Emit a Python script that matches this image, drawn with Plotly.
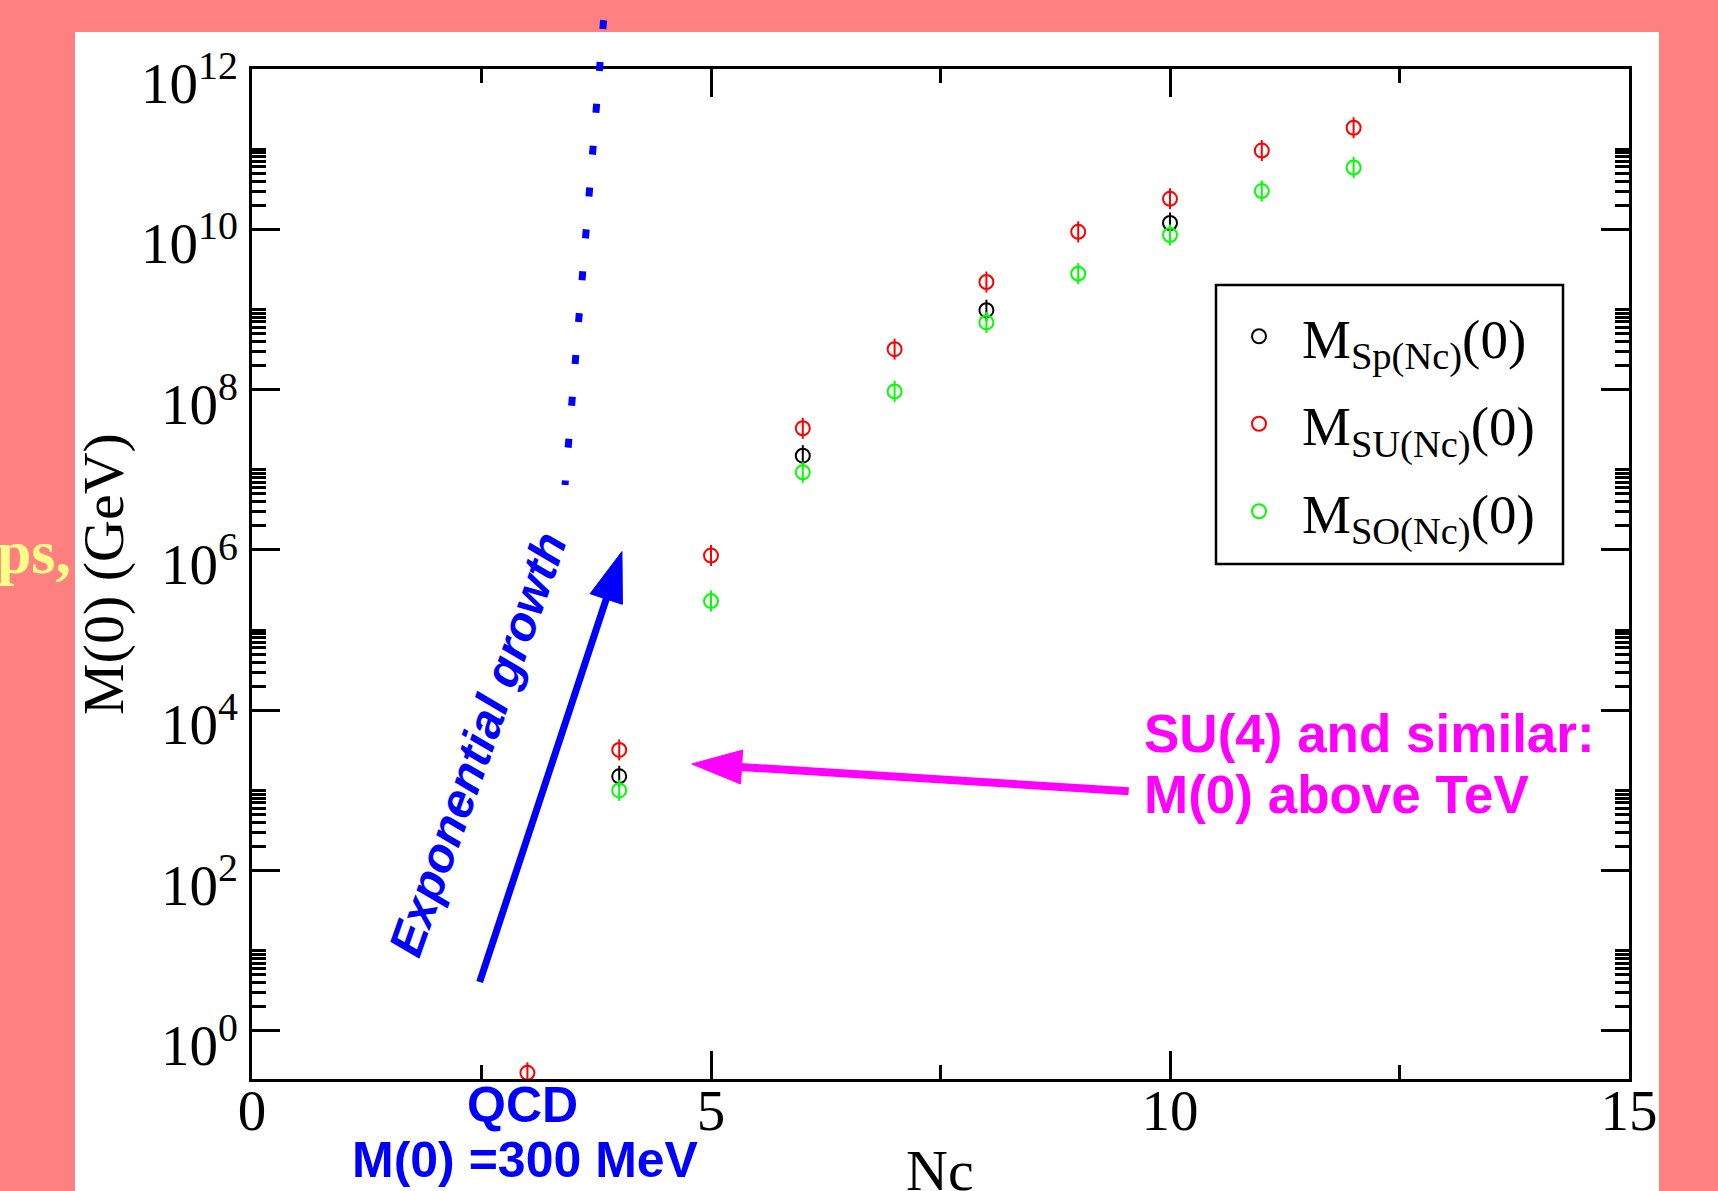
import math
import plotly.graph_objects as go

# ---------------- data ----------------
nc_sp = [4, 6, 8, 10]
m_sp = [1.5e3, 1.5e7, 9.8e8, 1.2e10]
nc_su = [3, 4, 5, 6, 7, 8, 9, 10, 11, 12]
m_su = [0.3, 3.2e3, 8.5e5, 3.3e7, 3.2e8, 2.2e9, 9.3e9, 2.4e10, 9.6e10, 1.85e11]
nc_so = [4, 5, 6, 7, 8, 9, 10, 11, 12]
m_so = [1.0e3, 2.3e5, 9.3e6, 9.5e7, 6.9e8, 2.8e9, 8.5e9, 3.0e10, 5.9e10]

series_names = ["M<sub>Sp(Nc)</sub>(0)", "M<sub>SU(Nc)</sub>(0)", "M<sub>SO(Nc)</sub>(0)"]
series_colors = ["#000000", "#ff0000", "#00ff00"]

x_ticks = [0, 5, 10, 15]
x_ticktext = ["0", "5", "10", "15"]
x_minor = [2.5, 7.5, 12.5]
y_exps = [0, 2, 4, 6, 8, 10, 12]
y_ticks = [10 ** e for e in y_exps]
y_ticktext = [f"10<sup>{e}</sup>" for e in y_exps]
y_minor = [k * 10 ** e for e in y_exps[:-1] for k in range(2, 11)]

# annotation anchor points (data coordinates)
growth_arrow_tail = (2.48, 10 ** 0.61)
growth_arrow_tip = (4.03, 10 ** 5.98)
su4_arrow_tail = (9.55, 10 ** 2.99)
su4_arrow_tip = (4.79, 10 ** 3.33)
dotted_start = (3.83, 10 ** 12.61)
dotted_end = (3.41, 10 ** 6.81)

# ---------------- geometry ----------------
W, H = 1718, 1191
ML, MR, MT, MB = 252, 89, 69, 112
PW, PH = W - ML - MR, H - MT - MB
X_RANGE = [0, 15]
Y_RANGE = [-0.6, 12]

PINK = "#ff8080"
BLUE = "#0000ff"
MAGENTA = "#ff00ff"
SERIF = "Liberation Serif, Times New Roman, serif"
SANS = "Liberation Sans, Arial, sans-serif"


def to_px(x, y):
    px = ML + (x - X_RANGE[0]) / (X_RANGE[1] - X_RANGE[0]) * PW
    py = MT + (Y_RANGE[1] - math.log10(y)) / (Y_RANGE[1] - Y_RANGE[0]) * PH
    return px, py


def pp(px, py):
    """pixel -> paper"""
    return (px - ML) / PW, (H - MB - py) / PH


def arrow_shapes(tail, tip, color, shaft_w, head_len, head_w):
    sx, sy = to_px(*tail)
    tx, ty = to_px(*tip)
    d = math.hypot(tx - sx, ty - sy)
    ux, uy = (tx - sx) / d, (ty - sy) / d
    nx, ny = -uy, ux
    bx, by = tx - head_len * ux, ty - head_len * uy
    c1 = (bx + nx * head_w / 2, by + ny * head_w / 2)
    c2 = (bx - nx * head_w / 2, by - ny * head_w / 2)
    p0 = pp(sx, sy)
    p1 = pp(bx + 2 * ux, by + 2 * uy)
    line = dict(type="line", xref="paper", yref="paper", x0=p0[0], y0=p0[1], x1=p1[0], y1=p1[1],
                line=dict(color=color, width=shaft_w), layer="above")
    pts = [pp(tx, ty), pp(*c1), pp(*c2)]
    path = "M{:.5f},{:.5f} L{:.5f},{:.5f} L{:.5f},{:.5f} Z".format(*pts[0], *pts[1], *pts[2])
    head = dict(type="path", xref="paper", yref="paper", path=path, fillcolor=color,
                line=dict(color=color, width=1), layer="above")
    return [line, head]


fig = go.Figure()

series = [(nc_sp, m_sp), (nc_su, m_su), (nc_so, m_so)]
for (xs, ys), name, col in zip(series, series_names, series_colors):
    fig.add_trace(go.Scatter(
        x=xs, y=ys, mode="markers", name=name, legendgroup=name,
        marker=dict(symbol="circle-open", size=14, color=col, line=dict(width=2, color=col)),
    ))
    fig.add_trace(go.Scatter(
        x=xs, y=ys, mode="markers", name=name, legendgroup=name, showlegend=False,
        marker=dict(symbol="line-ns-open", size=15, color=col, line=dict(width=2, color=col)),
    ))

shapes = []
# white slide panel
a = pp(75, 1300)
b = pp(1659, 32)
shapes.append(dict(type="rect", xref="paper", yref="paper", x0=a[0], y0=a[1], x1=b[0], y1=b[1],
                   fillcolor="white", line=dict(width=0), layer="below"))
# legend frame
la = pp(1216, 564)
lb = pp(1563, 285)
shapes.append(dict(type="rect", xref="paper", yref="paper", x0=la[0], y0=la[1], x1=lb[0], y1=lb[1],
                   fillcolor="white", line=dict(width=2.5, color="black"), layer="below"))
# dotted blue line
d0 = pp(*to_px(*dotted_start))
d1 = pp(*to_px(*dotted_end))
shapes.append(dict(type="line", xref="paper", yref="paper", x0=d0[0], y0=d0[1], x1=d1[0], y1=d1[1],
                   line=dict(color=BLUE, width=7, dash="9px,33px"), layer="above"))
shapes += arrow_shapes(growth_arrow_tail, growth_arrow_tip, BLUE, 7, 50, 34)
shapes += arrow_shapes(su4_arrow_tail, su4_arrow_tip, MAGENTA, 8, 50, 34)


def ann(text, px, py, size, color, family, xanchor="center", angle=0, bold=False, italic=False):
    x, y = pp(px, py)
    return dict(text=text, x=x, y=y, xref="paper", yref="paper", xanchor=xanchor, yanchor="middle",
                showarrow=False, textangle=angle,
                font=dict(size=size, color=color, family=family,
                          weight="bold" if bold else "normal", style="italic" if italic else "normal"))


annotations = [
    ann("Exponential growth", 478, 745, 48, BLUE, SANS, angle=-70.5, bold=True, italic=True),
    ann("SU(4) and similar:", 1142, 734, 53, MAGENTA, SANS, xanchor="left", bold=True),
    ann("M(0) above TeV", 1142, 794, 53, MAGENTA, SANS, xanchor="left", bold=True),
    ann("QCD", 522, 1105, 50, BLUE, SANS, bold=True),
    ann("M(0) =300 MeV", 525, 1160, 50, BLUE, SANS, bold=True),
    ann("groups,", 73, 552, 62, "#ffff88", SERIF, xanchor="right", bold=True),
    ann("Nc", 940, 1170, 58, "black", SERIF),
    ann("M(0) (GeV)", 103, 574, 58, "black", SERIF, angle=-90),
]

axis_common = dict(
    showline=True, linecolor="black", linewidth=2.5, mirror="allticks",
    ticks="inside", ticklen=28, tickwidth=2.5, tickcolor="black",
    showgrid=False, zeroline=False,
    tickfont=dict(family=SERIF, size=57, color="black"),
)

fig.update_layout(
    width=W, height=H,
    margin=dict(l=ML, r=MR, t=MT, b=MB, autoexpand=False),
    paper_bgcolor=PINK, plot_bgcolor="white",
    showlegend=True,
    legend=dict(x=pp(1216, 0)[0], y=pp(0, 294)[1], xanchor="left", yanchor="top",
                bgcolor="rgba(0,0,0,0)", borderwidth=0,
                font=dict(family=SERIF, size=55, color="black"),
                tracegroupgap=13, itemwidth=76),
    xaxis=dict(range=X_RANGE, tickmode="array", tickvals=x_ticks, ticktext=x_ticktext,
               ticklabelstandoff=-20,
               minor=dict(tickmode="array", tickvals=x_minor, ticks="inside", ticklen=14,
                          tickwidth=2.5, tickcolor="black"),
               **axis_common),
    yaxis=dict(type="log", range=Y_RANGE, tickmode="array", tickvals=y_ticks, ticktext=y_ticktext,
               ticklabelstandoff=0, ticklabelshift=14,
               minor=dict(tickmode="array", tickvals=y_minor, ticks="inside", ticklen=14,
                          tickwidth=2.5, tickcolor="black"),
               **axis_common),
    shapes=shapes,
    annotations=annotations,
)

fig.write_html("out.html", config={"displayModeBar": False})

# remove the browser's default page margin so the figure sits at the window's corner
with open("out.html", encoding="utf-8") as f:
    html = f.read()
html = html.replace("<head>", "<head><style>html,body{margin:0;padding:0;overflow:hidden;}</style>", 1)
with open("out.html", "w", encoding="utf-8") as f:
    f.write(html)
